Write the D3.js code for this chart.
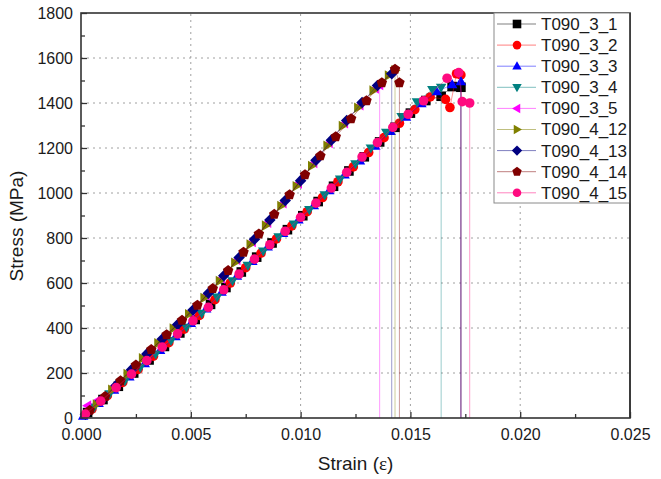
<!DOCTYPE html>
<meta charset="utf-8">
<script src="https://d3js.org/d3.v7.min.js"></script>
<style>
  body { margin: 0; background: #fff; }
  text { font-family: Arial, "Liberation Sans", sans-serif; }
</style>
<div id="chart"></div>
<script>

var names = ["T090_3_1", "T090_3_2", "T090_3_3", "T090_3_4", "T090_3_5",
             "T090_4_12", "T090_4_13", "T090_4_14", "T090_4_15"]

var xTicks = [0, 0.005, 0.010, 0.015, 0.020, 0.025]
var yTicks = [0, 200, 400, 600, 800, 1000, 1200, 1400, 1600, 1800]

// strain / stress pairs, last point is the failure drop
var strain_3_1 = [0, 0.0003, 0.0010, 0.0017, 0.0024, 0.0031, 0.0038, 0.0045, 0.0052, 0.0059, 0.0066, 0.0073, 0.0080, 0.0087, 0.0094, 0.0101, 0.0108, 0.0115, 0.0122, 0.0129, 0.0136, 0.0143, 0.0150, 0.0157, 0.0164, 0.0169, 0.0173, 0.0173]
var stress_3_1 = [0, 24, 82, 141, 200, 258, 318, 378, 438, 505, 580, 649, 715, 778, 837, 899, 962, 1030, 1098, 1161, 1227, 1292, 1355, 1411, 1430, 1473, 1470, 0]

var strain_3_2 = [0, 0.0005, 0.0012, 0.0019, 0.0026, 0.0033, 0.0040, 0.0047, 0.0054, 0.0061, 0.0068, 0.0075, 0.0082, 0.0089, 0.0096, 0.0103, 0.0110, 0.0117, 0.0124, 0.0131, 0.0138, 0.0145, 0.0152, 0.0159, 0.0166, 0.0168, 0.0171, 0.0173, 0.0173]
var stress_3_2 = [0, 40, 99, 158, 216, 275, 335, 395, 456, 526, 600, 668, 733, 796, 854, 917, 980, 1050, 1116, 1180, 1246, 1310, 1371, 1427, 1416, 1380, 1530, 1525, 0]

var strain_3_3 = [0, 0.0001, 0.0008, 0.0015, 0.0022, 0.0029, 0.0036, 0.0043, 0.0050, 0.0057, 0.0064, 0.0071, 0.0078, 0.0085, 0.0092, 0.0099, 0.0106, 0.0113, 0.0120, 0.0127, 0.0134, 0.0141, 0.0148, 0.0155, 0.0162, 0.0169, 0.0173, 0.0173]
var stress_3_3 = [0, 8, 65, 124, 183, 242, 300, 361, 420, 485, 559, 630, 696, 760, 821, 881, 944, 1010, 1080, 1143, 1208, 1274, 1337, 1397, 1450, 1482, 1495, 0]

var strain_3_4 = [0, 0.0006, 0.0013, 0.0020, 0.0027, 0.0034, 0.0041, 0.0048, 0.0055, 0.0062, 0.0069, 0.0076, 0.0083, 0.0090, 0.0097, 0.0104, 0.0111, 0.0118, 0.0125, 0.0132, 0.0139, 0.0146, 0.0153, 0.0160, 0.0164, 0.0164]
var stress_3_4 = [0, 48, 107, 166, 225, 284, 344, 403, 465, 537, 610, 678, 742, 805, 862, 926, 992, 1062, 1130, 1200, 1270, 1340, 1405, 1460, 1470, 0]

var strain_3_5 = [0, 0.0003, 0.0008, 0.0015, 0.0022, 0.0029, 0.0036, 0.0043, 0.0050, 0.0057, 0.0064, 0.0071, 0.0078, 0.0085, 0.0092, 0.0099, 0.0106, 0.0113, 0.0120, 0.0127, 0.0134, 0.0136, 0.0136]
var stress_3_5 = [0, 55, 80, 140, 205, 275, 342, 407, 472, 545, 620, 702, 782, 868, 955, 1042, 1133, 1222, 1310, 1390, 1465, 1480, 0]

var strain_4_12 = [0, 0.0007, 0.0014, 0.0021, 0.0028, 0.0035, 0.0042, 0.0049, 0.0056, 0.0063, 0.0070, 0.0077, 0.0084, 0.0091, 0.0098, 0.0105, 0.0112, 0.0119, 0.0126, 0.0133, 0.0140, 0.0143, 0.0143]
var stress_4_12 = [0, 60, 125, 195, 265, 332, 398, 461, 533, 609, 690, 771, 855, 942, 1030, 1120, 1210, 1298, 1379, 1455, 1522, 1545, 0]

var strain_4_13 = [0, 0.0002, 0.0009, 0.0016, 0.0023, 0.0030, 0.0037, 0.0044, 0.0051, 0.0058, 0.0065, 0.0072, 0.0079, 0.0086, 0.0093, 0.0100, 0.0107, 0.0114, 0.0121, 0.0128, 0.0135, 0.01415, 0.01415]
var stress_4_13 = [0, 17, 77, 145, 215, 285, 351, 416, 480, 554, 632, 713, 794, 880, 967, 1055, 1146, 1235, 1322, 1402, 1478, 1530, 0]

var strain_4_14 = [0, 0.0004, 0.0011, 0.0018, 0.0025, 0.0032, 0.0039, 0.0046, 0.0053, 0.0060, 0.0067, 0.0074, 0.0081, 0.0088, 0.0095, 0.0102, 0.0109, 0.0116, 0.0123, 0.0130, 0.0137, 0.0143, 0.0145, 0.0145]
var stress_4_14 = [0, 34, 95, 165, 235, 304, 370, 434, 501, 575, 655, 737, 818, 905, 992, 1081, 1165, 1250, 1330, 1410, 1490, 1550, 1490, 0]

var strain_4_15 = [0, 0.0002, 0.0009, 0.0016, 0.0023, 0.0030, 0.0037, 0.0044, 0.0051, 0.0058, 0.0065, 0.0072, 0.0079, 0.0086, 0.0093, 0.0100, 0.0107, 0.0114, 0.0121, 0.0128, 0.0135, 0.0142, 0.0149, 0.0156, 0.01667, 0.0172, 0.01736, 0.0177, 0.0177]
var stress_4_15 = [0, 17, 75, 135, 195, 255, 315, 374, 432, 492, 570, 640, 706, 770, 830, 892, 955, 1022, 1092, 1160, 1224, 1292, 1350, 1410, 1510, 1535, 1406, 1400, 0]

var strains = [strain_3_1, strain_3_2, strain_3_3, strain_3_4, strain_3_5, strain_4_12, strain_4_13, strain_4_14, strain_4_15]
var stresses = [stress_3_1, stress_3_2, stress_3_3, stress_3_4, stress_3_5, stress_4_12, stress_4_13, stress_4_14, stress_4_15]

var width = 661,
    height = 479,
    margin = {left: 81, right: 31, top: 13, bottom: 61}

var color = d3.scaleOrdinal()
  .domain(names)
  .range(["#000000", "#ff0000", "#0000ff", "#008080", "#ff00ff", "#808000", "#000080", "#800000", "#ff0a80"])

var shape = d3.scaleOrdinal()
  .domain(names)
  .range(["square", "circle", "up", "down", "left", "right", "diamond", "pentagon", "circle"])

var x = d3.scaleLinear().domain([0, 0.025]).range([margin.left, width - margin.right])
var y = d3.scaleLinear().domain([0, 1800]).range([height - margin.bottom, margin.top])

var svg = d3.select("#chart")
  .append("svg")
    .attr("width", width)
    .attr("height", height)

// marker outlines, r = half size
function marker(type, r) {
  if (type == "circle") return d3.symbol(d3.symbolCircle, Math.PI * r * r)()
  if (type == "square") return "M" + -r + "," + -r + "h" + 2*r + "v" + 2*r + "h" + -2*r + "Z"
  var pts
  if (type == "up") pts = [[0, -r*1.15], [r*1.1, r*0.75], [-r*1.1, r*0.75]]
  if (type == "down") pts = [[0, r*1.15], [r*1.1, -r*0.75], [-r*1.1, -r*0.75]]
  if (type == "left") pts = [[-r*1.15, 0], [r*0.75, -r*1.1], [r*0.75, r*1.1]]
  if (type == "right") pts = [[r*1.15, 0], [-r*0.75, -r*1.1], [-r*0.75, r*1.1]]
  if (type == "diamond") pts = [[0, -r*1.2], [r*1.2, 0], [0, r*1.2], [-r*1.2, 0]]
  if (type == "pentagon") pts = d3.range(5).map(function(i) {
    var a = -Math.PI / 2 + i * 2 * Math.PI / 5
    return [Math.cos(a) * r * 1.15, Math.sin(a) * r * 1.15]
  })
  return "M" + pts.map(function(p) { return p.join(",") }).join("L") + "Z"
}

// grid
svg.append("g")
  .selectAll("line")
  .data(xTicks.slice(1, -1))
  .enter()
  .append("line")
    .attr("x1", function(d) { return x(d) })
    .attr("x2", function(d) { return x(d) })
    .attr("y1", y(0))
    .attr("y2", y(1800))
    .attr("stroke", "#a0a0a0")
    .attr("stroke-dasharray", "2,4")

svg.append("g")
  .selectAll("line")
  .data(yTicks.slice(1, -1))
  .enter()
  .append("line")
    .attr("x1", x(0))
    .attr("x2", x(0.025))
    .attr("y1", function(d) { return y(d) })
    .attr("y2", function(d) { return y(d) })
    .attr("stroke", "#a0a0a0")
    .attr("stroke-dasharray", "2,4")

// axes, ticks inward
var xAxis = svg.append("g")
  .attr("transform", "translate(0," + y(0) + ")")
  .call(d3.axisBottom(x).tickValues(xTicks).tickSize(-6).tickPadding(10).tickFormat(d3.format(".3f")))

var yAxis = svg.append("g")
  .attr("transform", "translate(" + x(0) + ",0)")
  .call(d3.axisLeft(y).tickValues(yTicks).tickSize(-6).tickPadding(8).tickFormat(d3.format("d")))

svg.append("g")
  .attr("transform", "translate(0," + y(0) + ")")
  .call(d3.axisBottom(x).tickValues([0.0025, 0.0075, 0.0125, 0.0175, 0.0225]).tickSize(-4).tickFormat(""))

svg.append("g")
  .attr("transform", "translate(" + x(0) + ",0)")
  .call(d3.axisLeft(y).tickValues([100, 300, 500, 700, 900, 1100, 1300, 1500, 1700]).tickSize(-4).tickFormat(""))

svg.selectAll(".domain").remove()
svg.selectAll(".tick line").attr("stroke", "#333").attr("stroke-width", 1.3)
svg.selectAll(".tick text").style("font-size", "16px").attr("fill", "#1a1a1a")
xAxis.selectAll(".tick text").attr("dy", "0.72em")

// series
var line = d3.line()
  .x(function(d) { return x(d[0]) })
  .y(function(d) { return y(d[1]) })

names.forEach(function(name, i) {
  var pts = strains[i].map(function(s, j) { return [s, stresses[i][j]] })
  var g = svg.append("g")
  g.append("path")
    .attr("d", line(pts))
    .attr("fill", "none")
    .attr("stroke", color(name))
    .attr("stroke-opacity", 0.4)
    .attr("stroke-width", 1)
  g.selectAll("path.m")
    .data(pts.filter(function(d) { return d[1] > 0 }))
    .enter()
    .append("path")
      .attr("class", "m")
      .attr("transform", function(d) { return "translate(" + x(d[0]) + "," + y(d[1]) + ")" })
      .attr("d", marker(shape(name), 4.8))
      .attr("fill", color(name))
})

// frame
svg.append("rect")
  .attr("x", x(0))
  .attr("y", y(1800))
  .attr("width", x(0.025) - x(0))
  .attr("height", y(0) - y(1800))
  .attr("fill", "none")
  .attr("stroke", "#333")
  .attr("stroke-width", 1.6)

// legend
var lx = 494, ly = 13, step = 21.1
svg.append("rect")
  .attr("x", lx)
  .attr("y", ly)
  .attr("width", x(0.025) - lx)
  .attr("height", 190)
  .attr("fill", "white")
  .attr("stroke", "#8a8a8a")
  .attr("stroke-width", 1)

var leg = svg.selectAll("g.leg")
  .data(names)
  .enter()
  .append("g")
    .attr("class", "leg")
    .attr("transform", function(d, i) { return "translate(" + lx + "," + (ly + 11 + i * step) + ")" })

leg.append("line")
  .attr("x1", 3)
  .attr("x2", 42)
  .attr("stroke", function(d) { return color(d) })
  .attr("stroke-opacity", 0.5)

leg.append("path")
  .attr("transform", "translate(23,0)")
  .attr("d", function(d) { return marker(shape(d), 4.3) })
  .attr("fill", function(d) { return color(d) })

leg.append("text")
  .attr("x", 47)
  .attr("y", 0)
  .attr("dy", "0.35em")
  .style("font-size", "17px")
  .attr("fill", "#1a1a1a")
  .text(function(d) { return d })

svg.append("rect")
  .attr("x", x(0.025) - 0.8)
  .attr("y", y(1800))
  .attr("width", 1.6)
  .attr("height", y(0) - y(1800))
  .attr("fill", "#333")

// axis titles
var xt = svg.append("text")
  .attr("x", (x(0) + x(0.025)) / 2)
  .attr("y", 470)
  .attr("text-anchor", "middle")
  .style("font-size", "19px")
  .attr("fill", "#1a1a1a")
xt.append("tspan").text("Strain (")
xt.append("tspan").style("font-family", "'Liberation Serif', serif").text("ε")
xt.append("tspan").text(")")

svg.append("text")
  .attr("transform", "translate(23," + 226 + ") rotate(-90)")
  .attr("text-anchor", "middle")
  .style("font-size", "19px")
  .attr("fill", "#1a1a1a")
  .text("Stress (MPa)")

</script>
